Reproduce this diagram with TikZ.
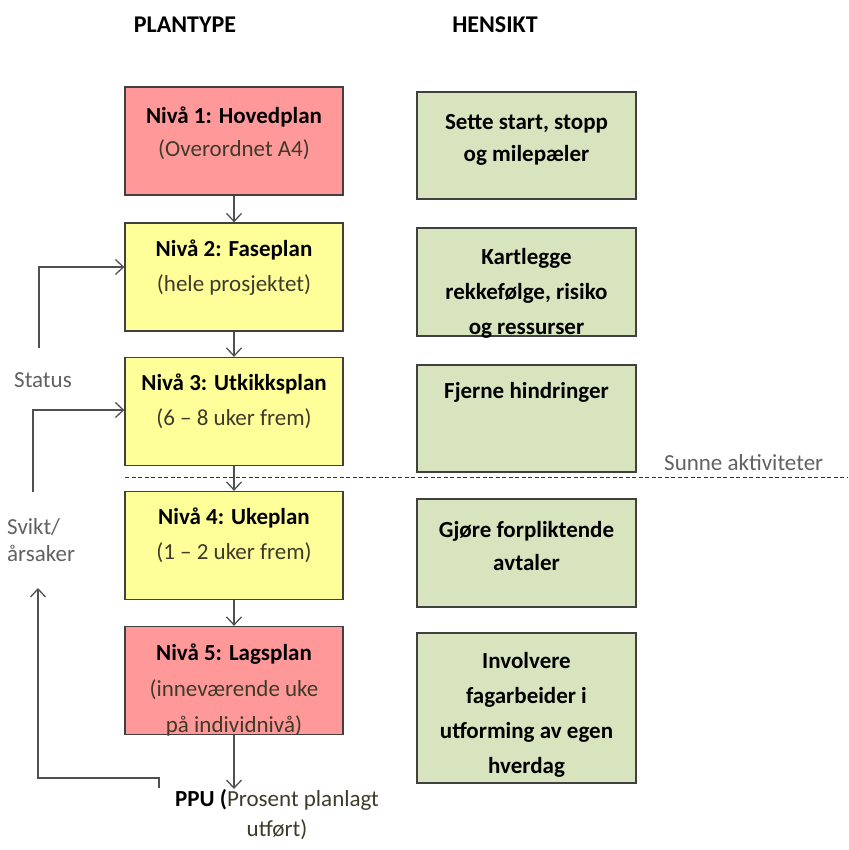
\documentclass[tikz,border=0pt]{standalone}
\usepackage{fontspec}
\setmainfont{Carlito}
\usetikzlibrary{arrows.meta}
\definecolor{redbox}{HTML}{FF9999}
\definecolor{yelbox}{HTML}{FFFF99}
\definecolor{grnbox}{HTML}{D7E4BD}
\definecolor{linegrey}{HTML}{505050}
\definecolor{subtxt}{HTML}{3F3A2A}
\begin{document}
\begin{tikzpicture}[x=1pt,y=-1pt,
  lbox/.style={draw=black!75,line width=1.3pt,minimum width=218pt,minimum height=108pt,inner sep=0pt},
  rbox/.style={draw=black!75,line width=1.3pt,fill=grnbox,minimum width=219pt,inner sep=0pt},
  boxtxt/.style={anchor=north,align=center,font=\fontsize{23}{35}\selectfont,inner sep=0pt},
  flow/.style={draw=linegrey,line width=1.3pt,-{Straight Barb[length=8pt,width=15pt,line width=1.3pt]}},
  side/.style={text=black!62,font=\fontsize{23}{27}\selectfont,inner sep=0pt},
  head/.style={font=\bfseries\fontsize{24}{28}\selectfont,inner sep=0pt}]
\useasboundingbox (0,0) rectangle (848,850);
% headings
\node[head] (h1) at (185,25) {PLANTYPE};
\node[head] (h2) at (495,25) {HENSIKT};
% left boxes
\node[lbox,fill=redbox] (n1) at (234,141) {};
\node[lbox,fill=yelbox] (n2) at (234,277) {};
\node[lbox,fill=yelbox] (n3) at (234,411.5) {};
\node[lbox,fill=yelbox] (n4) at (234,545.5) {};
\node[lbox,fill=redbox] (n5) at (234,680.5) {};
\node[boxtxt,font=\fontsize{23}{33}\selectfont] (t1) at ([yshift=-20pt]n1.north) {\textbf{Nivå 1: Hovedplan}\\\textcolor{subtxt}{(Overordnet A4)}};
\node[boxtxt] (t2) at ([yshift=-17pt]n2.north) {\textbf{Nivå 2: Faseplan}\\\textcolor{subtxt}{(hele prosjektet)}};
\node[boxtxt] (t3) at ([yshift=-17pt]n3.north) {\textbf{Nivå 3: Utkikksplan}\\\textcolor{subtxt}{(6 – 8 uker frem)}};
\node[boxtxt] (t4) at ([yshift=-17pt]n4.north) {\textbf{Nivå 4: Ukeplan}\\\textcolor{subtxt}{(1 – 2 uker frem)}};
\node[boxtxt,font=\fontsize{23}{36}\selectfont] (t5) at ([yshift=-18pt]n5.north) {\textbf{Nivå 5: Lagsplan}\\\textcolor{subtxt}{(inneværende uke}\\\textcolor{subtxt}{på individnivå)}};
% right boxes
\node[rbox,minimum height=107pt] (r1) at (526.5,145.5) {};
\node[rbox,minimum height=108pt] (r2) at (526.5,282) {};
\node[rbox,minimum height=107pt] (r3) at (526.5,418.5) {};
\node[rbox,minimum height=108pt] (r4) at (526.5,553) {};
\node[rbox,minimum height=150pt] (r5) at (526.5,708) {};
\node[boxtxt,font=\bfseries\fontsize{23}{32}\selectfont] (s1) at ([yshift=-23pt]r1.north) {Sette start, stopp\\og milepæler};
\node[boxtxt,font=\bfseries\fontsize{23}{35}\selectfont] (s2) at ([yshift=-21pt]r2.north) {Kartlegge\\rekkefølge, risiko\\og ressurser};
\node[boxtxt,font=\bfseries\fontsize{23}{35}\selectfont] (s3) at ([yshift=-18pt]r3.north) {Fjerne hindringer};
\node[boxtxt,font=\bfseries\fontsize{23}{33}\selectfont] (s4) at ([yshift=-23pt]r4.north) {Gjøre forpliktende\\avtaler};
\node[boxtxt,font=\bfseries\fontsize{23}{35}\selectfont] (s5) at ([yshift=-20pt]r5.north) {Involvere\\fagarbeider i\\utforming av egen\\hverdag};
% PPU
\node[anchor=north,align=center,font=\fontsize{23}{30}\selectfont,inner sep=0pt,text=subtxt] (ppu) at (277,789) {\textcolor{black}{\textbf{PPU (}}Prosent planlagt\\utført)};
\coordinate (ppuin) at (234,789);
% vertical flow arrows
\draw[flow] (n1) -- (n2);
\draw[flow] (n2) -- (n3);
\draw[flow] (n3) -- (n4);
\draw[flow] (n4) -- (n5);
\draw[flow] (n5.south) -- (ppuin);
% dashed separator
\coordinate (dl) at (125,477);
\coordinate (dr) at (848,477);
\draw[black!80,line width=1pt,dash pattern=on 4pt off 2.5pt] (dl) -- (dr);
\node[side,anchor=south west] (sunne) at (664,471) {Sunne aktiviteter};
% feedback loops
\node[side,anchor=west] (status) at (14,380) {Status};
\node[side,anchor=north west,align=left] (svikt) at (7,518) {Svikt/\\årsaker};
\coordinate (fb1) at (39,348);
\coordinate (fb2) at (33,492);
\coordinate (fb3) at (159,788);
\draw[flow] (fb1) |- (n2.west |- 0,267);
\draw[flow] (fb2) |- (n3.west |- 0,410);
\draw[flow] (fb3) -- (159,778) -| (38,588);
\end{tikzpicture}
\end{document}
